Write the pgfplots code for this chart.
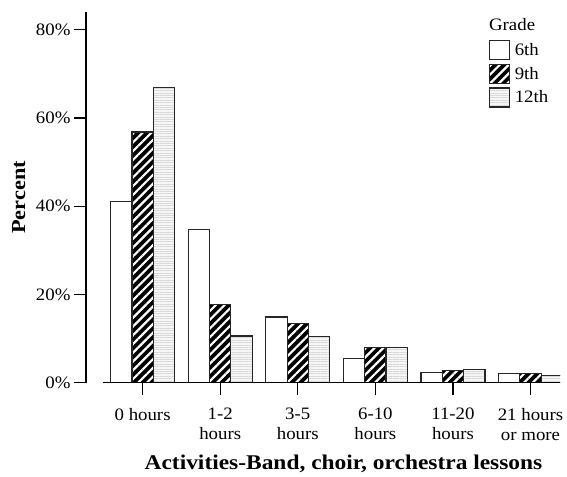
\documentclass[border=0pt]{standalone}
\usepackage{fontspec}
\setmainfont{Liberation Serif}[FakeStretch=1.08]
\newfontfamily\labfont{Liberation Serif}[FakeStretch=1.12]
\usepackage{pgfplots}
\usepackage{pgfplotstable}
\pgfplotsset{compat=1.18}
\usetikzlibrary{patterns.meta}

\pgfplotstableread{
x g6 g9 g12
0 41.1 56.8 66.9
1 34.7 17.7 10.6
2 14.9 13.4 10.4
3 5.4 8.0 8.0
4 2.3 2.8 3.0
5 2.1 2.0 1.6
}\data

\newcommand{\fs}{\fontsize{17.5}{20}\selectfont}

\begin{document}
\begin{tikzpicture}
\begin{axis}[
  scale only axis,
  width=474bp, height=370.7bp,
  xmin=-0.73, xmax=5.38,
  ymin=0, ymax=84,
  axis lines*=left,
  x axis line style={draw=none},
  axis line style={line width=1.2bp},
  tick style={line width=1.2bp, black},
  tick align=outside,
  major tick length=12bp,
  xtick={0,1,2,3,4,5},
  xticklabels={0 hours,{1-2\\hours},{3-5\\hours},{6-10\\hours},{11-20\\hours},{21 hours\\or more}},
  xticklabel style={align=center, font=\fs, yshift=-10bp},
  ytick={0,20,40,60,80},
  yticklabels={0\%,20\%,40\%,60\%,80\%},
  yticklabel style={font=\fs},
  ylabel={Percent},
  ylabel style={font=\labfont\bfseries\fontsize{20}{22}\selectfont, at={(rel axis cs:-0.1418,0.5)}, anchor=center},
  xlabel={Activities-Band, choir, orchestra lessons},
  xlabel style={font=\labfont\bfseries\fontsize{21}{24}\selectfont, at={(rel axis cs:0.5432,0)}, anchor=base, yshift=-86.3bp},
  legend style={draw=none, fill=none, at={(rel axis cs:0.849,0.925)}, anchor=north west,
    inner sep=0pt, row sep=3.5bp, font=\fs,
    nodes={inner sep=2bp}},
  legend cell align=left,
  legend image code/.code={\draw[#1, line width=1.2bp] (0bp,-9.5bp) rectangle (20bp,9.5bp); \path (23bp,0bp);},
]
\addplot[ybar, bar width=0.275, bar shift=-0.275, draw=black!85, line width=1.2bp, fill=white]
  table[x=x, y=g6] {\data};
\addlegendentry{6th}
\addplot[ybar, bar width=0.275, bar shift=0, draw=black!85, line width=1.2bp,
  preaction={fill=black}, pattern={Lines[angle=45, distance=6.2bp, line width=2.2bp]}, pattern color=white]
  table[x=x, y=g9] {\data};
\addlegendentry{9th}
\addplot[ybar, bar width=0.275, bar shift=0.275, draw=black!85, line width=1.2bp,
  preaction={fill=gray!7}, pattern={Lines[angle=0, distance=2.4bp, line width=0.6bp]}, pattern color=gray!30]
  table[x=x, y=g12] {\data};
\addlegendentry{12th}
\draw[line width=1.2bp] (axis cs:-0.51,0) -- (axis cs:5.38,0);
\node[anchor=base, font=\fs] at (rel axis cs:0.899,0.9496) {Grade};
\end{axis}
\path (current axis.south west) ++(-86bp,-94.3bp) rectangle ++(567bp,477bp);
\end{tikzpicture}
\end{document}
